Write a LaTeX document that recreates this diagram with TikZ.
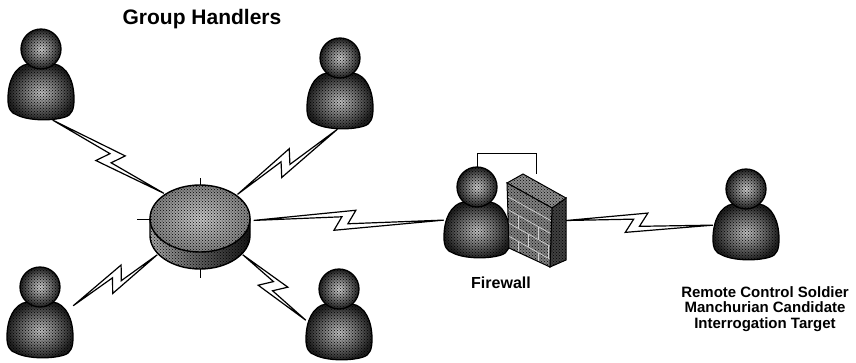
\documentclass[tikz,border=0pt]{standalone}
\usepackage{fontspec}
\setmainfont{Liberation Sans}
\usetikzlibrary{calc,shapes.geometric,patterns}
\tikzset{
    port/.style={rectangle,minimum width=66pt,minimum height=58pt,inner sep=0pt},
    caption/.style={font=\fontsize{15}{15.5}\selectfont\bfseries,align=center,inner sep=0pt},
    grain/.style={postaction={pattern=crosshatch dots,pattern color=black}},
    bolt/.style={fill=white,draw=black,line width=1.2pt,line join=miter,
        to path={-- ($(\tikztostart)!.48!(\tikztotarget)!11pt!(\tikztotarget)!10pt!90:(\tikztotarget)$)
        -- ($(\tikztostart)!.48!(\tikztotarget)!3pt!(\tikztotarget)!-3.5pt!90:(\tikztotarget)$)
        -- (\tikztotarget)
        -- ($(\tikztostart)!.48!(\tikztotarget)!-11pt!(\tikztotarget)!-10pt!90:(\tikztotarget)$)
        -- ($(\tikztostart)!.48!(\tikztotarget)!-3pt!(\tikztotarget)!3.5pt!90:(\tikztotarget)$)
        -- cycle}},
    person/.pic={
        %body first, the head sits on top of it
        \draw[line width=1.3pt,inner color=black!25,outer color=black!88,grain]
            (-13,-27) .. controls (-26,-25) and (-33,-10) .. (-33,8)
            .. controls (-33,18) and (-30,22) .. (-24,24)
            .. controls (-12,30) and (12,30) .. (24,26)
            .. controls (31,24) and (33,18) .. (33,8)
            .. controls (33,-10) and (26,-25) .. (13,-27)
            .. controls (5,-24) and (-5,-24) .. cycle;
        \draw[line width=1.3pt,inner color=black!20,outer color=black!88,grain] (0,-42) circle (20);
    }
}
\begin{document}
\begin{tikzpicture}[x=1pt,y=-1pt]
\useasboundingbox (0,0) rectangle (856,362);
\node[shape=ellipse,minimum width=108pt,minimum height=90pt,inner sep=0pt] (hub) at (200,227) {};
\node[port] (h1) at (41,91) {};
\node[port] (h2) at (340,100) {};
\node[port] (h3) at (40,329) {};
\node[port] (h4) at (339,331) {};
\node[port] (fwp) at (477,229) {};
\node[port] (soldier) at (746,231) {};
\node[rectangle,minimum width=59pt,minimum height=93pt,inner sep=0pt] (wall) at (536.5,220.5) {};
%links go out from the hub
\draw[bolt] (hub.137) to (h1.-68);
\draw[bolt] (hub.41) to (h2.-95);
\draw[bolt] (hub.213) to (h3.35);
\draw[bolt] (hub.-33) to (h4.162);
\draw[bolt] (hub.7) to (fwp.165);
\draw[bolt] (wall.east) to (soldier.170);
%the little ticks round the hub
\draw[line width=.8pt] (200,178) -- (200,186);
\draw[line width=.8pt] (200,269) -- (200,278);
\draw[line width=.8pt] (137,219) -- (150,219);
%hub
\draw[line width=1.4pt,left color=black!35,right color=black!92,grain] (150,218.5) -- (150,235.5) arc (180:0:50 and 33.5) -- (250,218.5) -- cycle;
\draw[line width=1.4pt,inner color=black!22,outer color=black!50,grain] (200,218.5) ellipse (50 and 33.5);
%wire over the firewall
\draw[line width=.6pt] (fwp.north) -- ++(0,-47) -| (wall.north);
\foreach \p in {h1,h2,h3,h4,fwp,soldier}
    \pic at (\p) {person};
%firewall
\draw[line width=1pt,fill=black!75,grain] (552,208) -- (566,198) -- (566,260) -- (550,267) -- cycle;
\draw[line width=1pt,fill=black!45,grain] (507,183) -- (523,174) -- (566,198) -- (552,208) -- cycle;
\begin{scope}
    \clip (507,183) -- (552,208) -- (550,267) -- (509,248) -- cycle;
    \fill[black!50] (500,170) rectangle (560,270);
    \fill[pattern=crosshatch dots,pattern color=black] (500,170) rectangle (560,270);
    \foreach \d in {13,26,39,52}
        \draw[black!18,line width=.7pt] (505,{182+\d}) -- (555,{210+\d});
    \foreach \x/\y in {518/216,538/227,528/234,548/245,518/242,538/253}
        \draw[black!18,line width=.7pt] (\x,\y) -- (\x,{\y+13});
\end{scope}
\draw[line width=1pt] (507,183) -- (552,208) -- (550,267) -- (509,248) -- cycle;
\node[font=\fontsize{21}{25}\selectfont\bfseries,inner sep=0pt] (title) at (202,19) {Group Handlers};
\node[font=\fontsize{16}{19}\selectfont\bfseries,inner sep=0pt] (fwlabel) at (501,283) {Firewall};
\node[caption] (roles) at (765,309) {Remote Control Soldier\\Manchurian Candidate\\Interrogation Target};
\end{tikzpicture}
\end{document}
